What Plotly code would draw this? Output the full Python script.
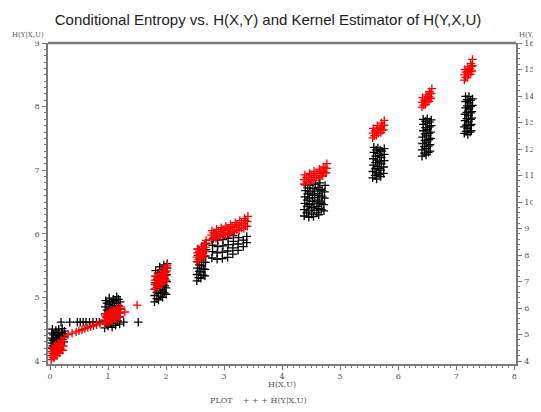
import plotly.graph_objects as go

# H(Y|X,U) (left axis) versus H(X,U)
black_x = [
    0.02, 0.02, 0.03, 0.03, 0.04, 0.08, 0.08, 0.09, 0.10, 0.13, 0.14, 0.14, 0.15, 0.19, 0.19, 0.20, 0.21, 0.24, 0.25, 0.25,
    0.05, 0.05, 0.06, 0.11, 0.11, 0.12, 0.17, 0.17, 0.22, 0.22,
    0.19, 0.34, 0.47, 0.52, 0.57, 0.62, 0.68, 0.74, 0.80, 0.85, 1.27, 1.52,
    0.94, 0.94, 0.95, 0.95, 0.96, 1.00, 1.01, 1.01, 1.02, 1.02, 1.07, 1.07, 1.08, 1.08, 1.09, 1.13, 1.14, 1.14, 1.15, 1.15, 1.20, 1.20, 1.21, 1.21,
    0.97, 0.97, 0.98, 0.98, 1.04, 1.04, 1.05, 1.05, 1.10, 1.11, 1.11, 1.12, 1.17, 1.17, 1.18, 1.18,
    1.80, 1.80, 1.81, 1.81, 1.82, 1.82, 1.87, 1.87, 1.88, 1.88, 1.89, 1.89, 1.94, 1.94, 1.95, 1.95, 1.96, 1.96, 2.00, 2.00, 2.01, 2.01, 2.02, 2.02,
    1.84, 1.84, 1.85, 1.85, 1.86, 1.91, 1.91, 1.92, 1.92, 1.93, 1.97, 1.98, 1.98, 1.99,
    2.53, 2.53, 2.54, 2.54, 2.55, 2.55, 2.60, 2.60, 2.61, 2.61, 2.62, 2.62, 2.67, 2.67, 2.68, 2.68, 2.69, 2.69,
    2.56, 2.57, 2.57, 2.58, 2.58, 2.64, 2.64, 2.65, 2.65, 2.66,
    2.79, 2.80, 2.80, 2.81, 2.88, 2.88, 2.89, 2.89, 2.90, 2.97, 2.97, 2.98, 2.98, 2.99, 3.06, 3.06, 3.07, 3.07, 3.08, 3.15, 3.15, 3.16, 3.16, 3.24, 3.24, 3.25, 3.33, 3.33, 3.39, 3.39,
    4.38, 4.38, 4.39, 4.39, 4.40, 4.40, 4.46, 4.46, 4.47, 4.47, 4.48, 4.48, 4.54, 4.55, 4.55, 4.56, 4.56, 4.57, 4.63, 4.63, 4.64, 4.64, 4.65, 4.65, 4.72, 4.72, 4.73, 4.73, 4.74,
    4.42, 4.43, 4.43, 4.44, 4.44, 4.51, 4.51, 4.52, 4.52, 4.53, 4.60, 4.60, 4.61, 4.61, 4.62, 4.68, 4.68, 4.69, 4.69,
    5.56, 5.56, 5.57, 5.57, 5.58, 5.58, 5.63, 5.63, 5.64, 5.64, 5.65, 5.65, 5.70, 5.70, 5.71, 5.71, 5.72, 5.75, 5.75, 5.76, 5.76, 5.76,
    5.60, 5.60, 5.61, 5.61, 5.62, 5.67, 5.67, 5.68, 5.68, 5.69,
    6.41, 6.41, 6.42, 6.42, 6.43, 6.43, 6.43, 6.48, 6.48, 6.49, 6.49, 6.50, 6.50, 6.50, 6.55, 6.55, 6.56, 6.56, 6.57, 6.57,
    6.45, 6.45, 6.46, 6.46, 6.47, 6.47, 6.52, 6.52, 6.53, 6.53, 6.54, 6.54,
    7.14, 7.14, 7.15, 7.15, 7.16, 7.16, 7.16, 7.20, 7.20, 7.21, 7.21, 7.22, 7.22, 7.22, 7.26, 7.26, 7.27, 7.27, 7.28, 7.28,
    7.17, 7.17, 7.18, 7.18, 7.19, 7.19, 7.24, 7.24, 7.25, 7.25, 7.25, 7.25,
]
black_y = [
    4.20, 4.28, 4.36, 4.44, 4.50, 4.22, 4.31, 4.40, 4.48, 4.25, 4.34, 4.42, 4.50, 4.27, 4.36, 4.45, 4.51, 4.30, 4.39, 4.47,
    4.24, 4.33, 4.41, 4.27, 4.36, 4.45, 4.30, 4.39, 4.34, 4.43,
    4.61, 4.61, 4.61, 4.61, 4.61, 4.61, 4.61, 4.61, 4.61, 4.61, 4.61, 4.61,
    4.52, 4.63, 4.74, 4.85, 4.95, 4.55, 4.66, 4.78, 4.89, 4.99, 4.53, 4.64, 4.76, 4.87, 4.97, 4.56, 4.68, 4.80, 4.91, 5.01, 4.58, 4.70, 4.82, 4.93,
    4.58, 4.69, 4.80, 4.91, 4.59, 4.70, 4.82, 4.93, 4.60, 4.72, 4.84, 4.95, 4.63, 4.75, 4.87, 4.97,
    4.93, 5.03, 5.13, 5.23, 5.33, 5.42, 4.96, 5.06, 5.17, 5.27, 5.38, 5.48, 5.00, 5.10, 5.21, 5.31, 5.42, 5.51, 5.05, 5.15, 5.25, 5.36, 5.46, 5.53,
    4.98, 5.08, 5.18, 5.28, 5.38, 5.02, 5.12, 5.23, 5.33, 5.44, 5.07, 5.18, 5.29, 5.40,
    5.26, 5.36, 5.46, 5.56, 5.66, 5.76, 5.30, 5.40, 5.50, 5.60, 5.70, 5.80, 5.34, 5.44, 5.55, 5.65, 5.75, 5.85,
    5.31, 5.41, 5.51, 5.61, 5.71, 5.35, 5.45, 5.55, 5.65, 5.75,
    5.62, 5.72, 5.82, 5.92, 5.60, 5.70, 5.80, 5.90, 5.98, 5.61, 5.71, 5.81, 5.91, 5.99, 5.63, 5.73, 5.83, 5.93, 6.00, 5.68, 5.78, 5.88, 5.97, 5.74, 5.84, 5.94, 5.80, 5.90, 5.86, 5.96,
    6.28, 6.38, 6.48, 6.58, 6.68, 6.77, 6.26, 6.36, 6.46, 6.56, 6.66, 6.76, 6.27, 6.37, 6.47, 6.57, 6.67, 6.78, 6.30, 6.40, 6.50, 6.60, 6.70, 6.80, 6.36, 6.46, 6.56, 6.66, 6.76,
    6.33, 6.43, 6.53, 6.63, 6.72, 6.31, 6.41, 6.51, 6.61, 6.71, 6.33, 6.43, 6.53, 6.63, 6.73, 6.38, 6.48, 6.58, 6.68,
    6.88, 6.98, 7.08, 7.18, 7.28, 7.36, 6.86, 6.96, 7.06, 7.16, 7.26, 7.35, 6.90, 7.00, 7.10, 7.20, 7.30, 6.95, 7.05, 7.15, 7.25, 7.34,
    6.92, 7.02, 7.12, 7.22, 7.32, 6.93, 7.03, 7.13, 7.23, 7.32,
    7.22, 7.32, 7.42, 7.52, 7.62, 7.72, 7.80, 7.24, 7.34, 7.44, 7.54, 7.64, 7.74, 7.81, 7.30, 7.40, 7.50, 7.60, 7.70, 7.79,
    7.27, 7.37, 7.47, 7.57, 7.67, 7.77, 7.28, 7.38, 7.48, 7.58, 7.68, 7.76,
    7.58, 7.68, 7.78, 7.88, 7.98, 8.08, 8.16, 7.56, 7.66, 7.76, 7.86, 7.96, 8.06, 8.16, 7.62, 7.72, 7.82, 7.92, 8.02, 8.12,
    7.61, 7.71, 7.81, 7.91, 8.01, 8.11, 7.60, 7.70, 7.80, 7.90, 8.00, 8.10,
]

# Kernel estimator H(Y,X,U) (right axis) versus H(X,U)
red_x = [
    0.02, 0.02, 0.03, 0.04, 0.07, 0.08, 0.08, 0.09, 0.12, 0.13, 0.13, 0.14, 0.17, 0.18, 0.18, 0.19, 0.22, 0.23, 0.23, 0.24,
    0.05, 0.05, 0.06, 0.10, 0.11, 0.11, 0.15, 0.16, 0.16, 0.20, 0.21, 0.21,
    0.31, 0.38, 0.45, 0.50, 0.55, 0.60, 0.65, 0.70, 0.75, 0.80, 0.86,
    0.94, 0.94, 0.95, 1.00, 1.01, 1.01, 1.02, 1.07, 1.08, 1.08, 1.09, 1.14, 1.14, 1.15, 1.15, 1.20, 1.21, 1.21, 1.22, 1.29, 1.50,
    0.97, 0.98, 0.98, 1.04, 1.05, 1.05, 1.11, 1.11, 1.12, 1.17, 1.18, 1.18,
    1.80, 1.80, 1.81, 1.81, 1.87, 1.87, 1.88, 1.88, 1.94, 1.94, 1.95, 1.95, 2.00, 2.00, 2.01, 2.01, 2.02,
    1.84, 1.84, 1.85, 1.91, 1.91, 1.92, 1.97, 1.97, 1.98, 1.98,
    2.53, 2.53, 2.54, 2.54, 2.60, 2.60, 2.61, 2.61, 2.67, 2.67, 2.68, 2.68, 2.69,
    2.56, 2.57, 2.57, 2.63, 2.64, 2.64, 2.66,
    2.78, 2.78, 2.79, 2.86, 2.86, 2.87, 2.94, 2.94, 2.95, 3.02, 3.02, 3.03, 3.10, 3.10, 3.11, 3.18, 3.18, 3.19, 3.26, 3.26, 3.27, 3.34, 3.34, 3.35, 3.40, 3.40, 3.41,
    2.82, 2.82, 2.90, 2.90, 2.98, 2.98, 3.06, 3.06, 3.14, 3.14, 3.22, 3.22, 3.30, 3.30, 3.37, 3.37,
    4.38, 4.38, 4.39, 4.46, 4.46, 4.47, 4.54, 4.55, 4.55, 4.63, 4.63, 4.64, 4.70, 4.71, 4.71, 4.76, 4.77, 4.77,
    4.42, 4.42, 4.50, 4.50, 4.59, 4.59, 4.67, 4.67, 4.74, 4.74,
    5.56, 5.56, 5.57, 5.63, 5.63, 5.64, 5.70, 5.70, 5.71, 5.75, 5.76, 5.76,
    5.59, 5.60, 5.66, 5.67, 5.72, 5.73,
    6.41, 6.41, 6.42, 6.47, 6.48, 6.48, 6.53, 6.53, 6.54, 6.57, 6.57, 6.58,
    6.44, 6.45, 6.50, 6.51, 6.55, 6.55,
    7.14, 7.14, 7.15, 7.19, 7.19, 7.20, 7.24, 7.24, 7.25, 7.27, 7.28, 7.28,
    7.16, 7.17, 7.21, 7.22, 7.26, 7.26,
]
red_y = [
    4.05, 4.20, 4.35, 4.50, 4.12, 4.28, 4.44, 4.60, 4.20, 4.36, 4.52, 4.68, 4.30, 4.46, 4.62, 4.78, 4.40, 4.56, 4.72, 4.88,
    4.14, 4.28, 4.42, 4.22, 4.38, 4.54, 4.32, 4.48, 4.64, 4.42, 4.58, 4.74,
    5.00, 5.05, 5.10, 5.14, 5.18, 5.22, 5.26, 5.30, 5.33, 5.37, 5.42,
    5.40, 5.55, 5.70, 5.45, 5.60, 5.75, 5.88, 5.50, 5.65, 5.80, 5.93, 5.58, 5.73, 5.87, 6.00, 5.65, 5.80, 5.95, 6.04, 5.85, 6.11,
    5.48, 5.63, 5.78, 5.53, 5.68, 5.84, 5.60, 5.76, 5.90, 5.66, 5.82, 5.97,
    6.70, 6.88, 7.05, 7.20, 6.80, 6.98, 7.15, 7.30, 6.92, 7.10, 7.27, 7.42, 7.05, 7.23, 7.40, 7.55, 7.62,
    6.78, 6.96, 7.13, 6.88, 7.06, 7.22, 7.00, 7.18, 7.35, 7.50,
    7.75, 7.92, 8.08, 8.22, 7.85, 8.02, 8.18, 8.32, 7.98, 8.15, 8.30, 8.45, 8.55,
    7.82, 7.99, 8.15, 7.92, 8.09, 8.25, 8.40,
    8.58, 8.75, 8.92, 8.62, 8.80, 8.97, 8.68, 8.86, 9.03, 8.74, 8.92, 9.09, 8.80, 8.98, 9.15, 8.86, 9.04, 9.22, 8.93, 9.11, 9.30, 9.00, 9.18, 9.38, 9.08, 9.26, 9.46,
    8.66, 8.84, 8.71, 8.89, 8.77, 8.95, 8.83, 9.01, 8.89, 9.07, 8.95, 9.14, 9.02, 9.21, 9.10, 9.30,
    10.68, 10.85, 11.02, 10.75, 10.92, 11.08, 10.82, 10.99, 11.16, 10.90, 11.07, 11.24, 10.98, 11.15, 11.32, 11.10, 11.27, 11.45,
    10.76, 10.93, 10.84, 11.01, 10.92, 11.09, 11.00, 11.17, 11.10, 11.28,
    12.42, 12.60, 12.78, 12.52, 12.70, 12.88, 12.62, 12.80, 12.98, 12.72, 12.90, 13.08,
    12.50, 12.68, 12.60, 12.78, 12.70, 12.88,
    13.58, 13.76, 13.94, 13.68, 13.86, 14.04, 13.80, 13.98, 14.16, 13.92, 14.10, 14.28,
    13.66, 13.84, 13.78, 13.96, 13.90, 14.08,
    14.60, 14.80, 15.00, 14.70, 14.90, 15.10, 14.82, 15.02, 15.22, 14.95, 15.15, 15.38,
    14.70, 14.90, 14.80, 15.00, 14.92, 15.12,
]

x_ticks = [0, 1, 2, 3, 4, 5, 6, 7, 8]
left_ticks = [4, 5, 6, 7, 8, 9]
right_ticks = [4, 5, 6, 7, 8, 9, 10, 11, 12, 13, 14, 15, 16]

AX = "#7a7a7a"
TICKFONT = dict(family="DejaVu Serif", size=8, color="#555555")
SMALL = dict(family="DejaVu Serif", size=7, color="#555555")

fig = go.Figure()
fig.add_trace(go.Scatter(
    x=black_x, y=black_y, mode="markers", yaxis="y", name="H(Y|X,U)",
    marker=dict(symbol="cross-thin-open", size=6, color="black", line=dict(color="black", width=1.3)),
    hoverinfo="skip", showlegend=False))
fig.add_trace(go.Scatter(
    x=red_x, y=red_y, mode="markers", yaxis="y2", name="H(Y,X,U)",
    marker=dict(symbol="cross-thin-open", size=6, color="red", line=dict(color="red", width=1.3)),
    hoverinfo="skip", showlegend=False))

# page is offset by 8px body margin: plot area page x 48..516, y 43..364
fig.update_layout(
    width=541, height=412,
    margin=dict(l=40, r=33, t=35, b=56),
    paper_bgcolor="white", plot_bgcolor="white",
    title=dict(text="Conditional Entropy vs. H(X,Y) and Kernel Estimator of H(Y,X,U)",
               font=dict(family="Liberation Sans", size=15, color="#222222"),
               x=260 / 541, xref="container", xanchor="center", y=1 - 12 / 412, yanchor="middle"),
    xaxis=dict(range=[-0.035, 8.03], tickvals=x_ticks, ticks="outside", ticklen=4, tickwidth=1, tickcolor=AX,
               showline=True, linecolor=AX, linewidth=1.5, showgrid=False, zeroline=False,
               tickfont=TICKFONT, automargin=False,
               minor=dict(dtick=0.1, ticks="outside", ticklen=2, tickcolor=AX, showgrid=False)),
    yaxis=dict(range=[3.953, 9.0], tickvals=left_ticks, ticks="outside", ticklen=4, tickwidth=1, tickcolor=AX,
               showline=True, linecolor=AX, linewidth=1.5, showgrid=False, zeroline=False,
               tickfont=TICKFONT, ticklabelstandoff=1, automargin=False,
               minor=dict(dtick=0.1, ticks="outside", ticklen=2, tickcolor=AX, showgrid=False)),
    yaxis2=dict(range=[3.887, 16.0], tickvals=right_ticks, overlaying="y", side="right",
                ticks="outside", ticklen=4, tickwidth=1, tickcolor=AX,
                showline=True, linecolor=AX, linewidth=1.5, showgrid=False, zeroline=False,
                tickfont=TICKFONT, ticklabelstandoff=1, automargin=False,
                minor=dict(dtick=0.2, ticks="outside", ticklen=2, tickcolor=AX, showgrid=False)),
    shapes=[dict(type="line", xref="paper", yref="paper", x0=0, x1=1, y0=1, y1=1,
                 line=dict(color=AX, width=2.5))],
    annotations=[
        dict(text="H(X,U)", xref="paper", yref="paper", x=(282 - 48) / 468, y=(364 - 384) / 321,
             xanchor="center", yanchor="middle", showarrow=False, font=TICKFONT),
        dict(text="PLOT&nbsp;&nbsp;&nbsp;&nbsp;+ + + H(Y|X,U)", xref="paper", yref="paper",
             x=(258 - 48) / 468, y=(364 - 400) / 321,
             xanchor="center", yanchor="middle", showarrow=False, font=TICKFONT),
        dict(text="H(Y|X,U)", xref="paper", yref="paper", x=(46 - 48) / 468, y=(364 - 35) / 321,
             xanchor="right", yanchor="middle", showarrow=False, font=SMALL),
        dict(text="H(Y,X,U)", xref="paper", yref="paper", x=(517 - 48) / 468, y=(364 - 35) / 321,
             xanchor="left", yanchor="middle", showarrow=False, font=SMALL),
    ],
)

fig.write_html("out.html")
